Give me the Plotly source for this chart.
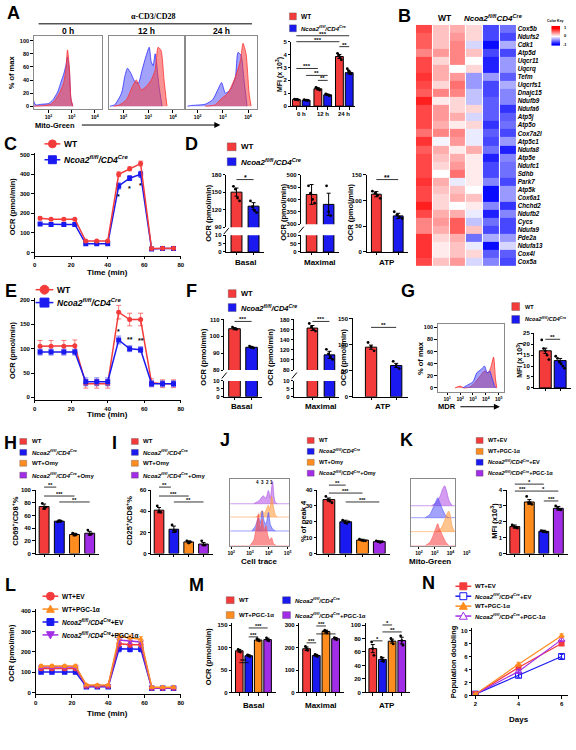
import plotly.graph_objects as go

W, H = 576, 750
FONT = "Liberation Sans, Arial, sans-serif"
SERIF = "Liberation Serif, Times New Roman, serif"
RED = "#F43B3B"
BLUE = "#1A1AF0"
ORANGE = "#FF8C1F"
PURPLE = "#A22DE6"
KO_LBL = "<i>Ncoa2<sup>fl/fl</sup>/CD4<sup>Cre</sup></i>"

# ======================= DATA =======================
# A - Mito-Green histograms (x: log10 intensity, y: % of max)
A0_KO_X = [1.36, 1.45, 1.7, 2.0, 2.2, 2.4, 2.55, 2.65, 2.75, 2.82, 2.9, 2.97, 3.05]
A0_KO_Y = [8, 2, 3, 4, 10, 22, 38, 48, 62, 75, 55, 10, 0]
A0_WT_X = [1.36, 1.8, 2.1, 2.3, 2.5, 2.65, 2.75, 2.82, 2.9, 2.97, 3.05]
A0_WT_Y = [0, 1, 3, 10, 22, 35, 55, 86, 60, 12, 0]
A12_KO_X = [1.45, 1.64, 1.92, 2.05, 2.16, 2.3, 2.45, 2.6, 2.75, 2.9, 3.04, 3.12, 3.2, 3.28, 3.44, 3.56]
A12_KO_Y = [0, 2, 20, 45, 58, 50, 38, 35, 55, 75, 90, 68, 62, 80, 30, 0]
A12_WT_X = [1.6, 1.84, 2.12, 2.36, 2.52, 2.72, 2.92, 3.12, 3.28, 3.4, 3.52, 3.64, 3.76]
A12_WT_Y = [0, 2, 10, 30, 40, 25, 30, 40, 55, 90, 85, 40, 0]
A24_KO_X = [1.6, 1.73, 2.3, 2.6, 2.8, 2.95, 3.1, 3.3, 3.5, 3.6, 3.72, 3.84, 3.96]
A24_KO_Y = [0, 1, 3, 10, 25, 36, 20, 25, 45, 82, 78, 40, 0]
A24_WT_X = [2.3, 2.7, 2.9, 3.2, 3.5, 3.7, 3.8, 3.92, 4.04, 4.12]
A24_WT_Y = [0, 2, 10, 20, 45, 70, 96, 80, 20, 0]
# A - MFI bars (x10^3)
A_GROUPS = ["0 h", "12 h", "24 h"]
A_MFI = [0.52, 0.47, 1.35, 0.88, 3.85, 2.60]
A_ERR = [0.04, 0.03, 0.08, 0.05, 0.16, 0.12]
A_DOTS = [[0.55, 0.5, 0.52, 0.48], [0.5, 0.45, 0.47, 0.44], [1.45, 1.4, 1.3, 1.25],
          [0.95, 0.9, 0.85, 0.8], [4.1, 3.95, 3.8, 3.6], [2.9, 2.75, 2.6, 2.5]]

# B - heatmap (row z-scores; 3 WT, 3 KO)
B_GENES = ["Cox5b", "Ndufs2", "Cdk1", "Atp5d", "Uqcr11", "Uqcrq", "Tefm", "Uqcrfs1", "Dnajc15",
           "Ndufb9", "Ndufa6", "Atp5j", "Atp5o", "Cox7a2l", "Atp5c1", "Ndufa8", "Atp5e", "Ndufc1",
           "Sdhb", "Park7", "Atp5k", "Cox6a1", "Chchd2", "Ndufb2", "Cycs", "Ndufa9", "Pde2a",
           "Ndufa13", "Cox4l", "Cox5a"]
B_Z = [
    [0.9, 0.3, 0.4, 0.2, -0.9, -0.7], [0.8, 0.3, 0.5, 0.2, -0.9, -0.9],
    [0.8, 0.3, 0.6, -0.2, -1.2, -0.4], [0.6, 0.5, 0.6, 0.3, -0.9, -0.9],
    [0.9, 0.2, 0.6, 0.0, -1.1, -0.5], [0.9, 0.4, 0.0, 0.2, -1.1, -0.5],
    [1.0, 0.4, 0.5, -0.5, -0.5, -0.8], [0.9, 0.2, 0.7, -0.5, -0.9, -0.4],
    [0.8, 0.6, 0.6, -0.3, -0.9, -0.6], [1.1, 0.1, 0.2, -0.3, -0.8, -0.6],
    [0.9, 0.5, 0.2, 0.2, -0.8, -1.0], [0.9, 0.5, 0.4, -0.2, -0.8, -0.8],
    [0.9, 0.4, 0.1, 0.2, -1.0, -0.7], [0.7, 0.6, 0.6, -0.1, -0.8, -0.9],
    [1.0, -0.05, 0.5, -0.1, -0.9, -0.5], [0.8, 0.4, 0.1, 0.4, -0.7, -1.1],
    [0.9, 0.3, 0.4, 0.1, -1.1, -0.6], [0.9, 0.2, 0.5, 0.1, -0.9, -0.7],
    [0.9, 0.0, 0.7, 0.1, -0.9, -0.7], [1.0, 0.4, -0.1, 0.1, -0.6, -0.9],
    [0.9, 0.3, 0.3, 0.0, -1.2, -0.5], [0.9, 0.2, 0.4, 0.3, -1.2, -0.5],
    [1.1, 0.2, 0.0, 0.1, -0.6, -1.0], [0.9, 0.4, 0.4, -0.1, -1.1, -0.6],
    [0.6, 0.5, 0.8, -0.3, -0.7, -0.9], [0.6, 0.4, 0.8, 0.3, -0.9, -0.9],
    [1.0, 0.2, 0.4, -0.7, -0.4, -0.5], [1.0, 0.1, 0.3, -0.1, -1.2, -0.2],
    [1.0, 0.1, 0.3, 0.2, -0.8, -0.8], [0.9, 0.3, 0.5, -0.2, -0.6, -0.9]]
B_KEY = [[-1], [-0.5], [0], [0.5], [1]]

# C / E / L - Seahorse OCR time courses
TIME = [3, 9, 16, 22, 28, 34, 40, 46, 52, 58, 64, 70, 76]
C_WT = [175, 170, 170, 170, 58, 58, 58, 400, 428, 455, 20, 22, 22]
C_KO = [145, 143, 143, 143, 45, 45, 45, 340, 380, 400, 18, 20, 20]
C_WT_ERR = [8, 5, 5, 5, 4, 4, 4, 12, 10, 12, 3, 3, 3]
C_KO_ERR = [6, 5, 5, 5, 4, 4, 4, 15, 12, 15, 3, 3, 3]
E_WT = [105, 105, 105, 106, 28, 28, 28, 175, 160, 160, 30, 28, 28]
E_KO = [93, 93, 93, 93, 32, 32, 32, 118, 100, 98, 28, 28, 28]
E_WT_ERR = [12, 12, 12, 12, 9, 9, 9, 14, 13, 13, 8, 8, 8]
E_KO_ERR = [6, 6, 6, 6, 8, 8, 8, 8, 6, 6, 6, 6, 6]
L_WT_EV = [118, 118, 118, 118, 32, 32, 32, 240, 235, 235, 22, 22, 22]
L_WT_PGC = [130, 130, 130, 130, 36, 36, 36, 275, 270, 262, 25, 25, 25]
L_KO_EV = [100, 100, 100, 100, 28, 28, 28, 215, 212, 212, 20, 20, 20]
L_KO_PGC = [125, 125, 125, 125, 33, 33, 33, 258, 252, 248, 22, 22, 22]
L_ERR = [8, 8, 8, 8, 4, 4, 4, 15, 12, 12, 3, 3, 3]

# D / F - OCR parameters (WT, KO)
D_BASAL = [150, 126]; D_BASAL_ERR = [7, 6]
D_BASAL_DOTS = [[160, 155, 140, 135], [135, 125, 118, 115]]
D_MAX = [420, 380]; D_MAX_ERR = [40, 45]
D_MAX_DOTS = [[455, 425, 400, 385], [455, 350, 335]]
D_ATP = [112, 70]; D_ATP_ERR = [5, 5]
D_ATP_DOTS = [[118, 114, 110, 104], [78, 72, 68, 65]]
F_BASAL = [104.5, 93.5]; F_BASAL_ERR = [0.6, 0.5]
F_BASAL_DOTS = [[105.5, 104.6, 104.2], [94.2, 93.6, 93.0]]
F_MAX = [163, 110]; F_MAX_ERR = [5, 7]
F_MAX_DOTS = [[172, 165, 160, 157], [121, 112, 106, 101]]
F_ATP = [95, 60]; F_ATP_ERR = [4, 4]
F_ATP_DOTS = [[104, 96, 88], [68, 60, 54]]

# G - MDR histogram and MFI
G_WT_X = [1.6, 2.0, 2.3, 2.7, 3.0, 3.5, 3.9, 4.2, 4.4, 4.6, 4.75, 4.85]
G_WT_Y = [0, 3, 0, 1, 5, 18, 28, 25, 35, 51, 15, 0]
G_KO_X = [2.2, 2.6, 3.0, 3.3, 3.6, 3.9, 4.1, 4.3, 4.5, 4.7, 4.8]
G_KO_Y = [0, 5, 10, 25, 30, 36, 25, 28, 15, 2, 0]
G_MFI = [17, 12.5]; G_ERR = [1.2, 1.0]
G_DOTS = [[22, 18, 17, 15, 13], [14.5, 13.5, 12, 11, 10, 9]]

# H / I / J - Omy experiments (WT, KO, WT+Omy, KO+Omy)
H_VALS = [74, 51, 30, 32]; H_ERR = [4, 1.5, 2, 3]
H_DOTS = [[79, 71, 73], [50, 52, 51], [32, 29, 30], [37, 30, 31]]
I_VALS = [41, 23, 11, 9]; I_ERR = [2.5, 3, 1, 1.5]
I_DOTS = [[45, 40, 39], [27, 22, 21], [12, 10, 11], [12, 8, 8]]
J_VALS = [34, 20, 8.5, 7.5]; J_ERR = [1, 1, 0.5, 0.5]
J_DOTS = [[36, 34, 33, 32], [21, 20, 19, 20], [9, 8.5, 8, 8], [8, 7.5, 7, 7.5]]
J_RED_X = [3.0, 3.2, 3.35, 3.45, 3.55, 3.65, 3.75, 3.85, 3.95, 4.05, 4.15, 4.25, 4.4]
J_RED_Y = [0, 8, 30, 48, 25, 40, 22, 30, 15, 8, 12, 3, 0]
J_BLUE_X = [3.1, 3.3, 3.45, 3.55, 3.65, 3.75, 3.85, 3.98, 4.08, 4.2, 4.35]
J_BLUE_Y = [0, 8, 20, 12, 30, 15, 10, 28, 10, 3, 0]
J_ORANGE_X = [3.3, 3.5, 3.65, 3.75, 3.85, 3.98, 4.05, 4.15, 4.25, 4.35, 4.45]
J_ORANGE_Y = [0, 3, 10, 5, 10, 18, 10, 31, 15, 3, 0]
J_PURPLE_X = [3.2, 3.5, 3.7, 3.85, 3.98, 4.08, 4.2, 4.28, 4.35, 4.45]
J_PURPLE_Y = [0, 5, 12, 8, 20, 8, 34, 10, 2, 0]

# K - PGC-1a Mito-Green (WT+EV, WT+PGC, KO+EV, KO+PGC)
K_RED_X = [2.4, 2.7, 2.9, 3.1, 3.19, 3.3, 3.5, 3.7, 3.9]
K_RED_Y = [0, 5, 15, 28, 33, 25, 15, 5, 0]
K_ORANGE_X = [3.1, 3.4, 3.6, 3.75, 3.88, 3.98, 4.1, 4.25]
K_ORANGE_Y = [0, 5, 15, 25, 31, 25, 8, 0]
K_BLUE_X = [2.4, 2.7, 2.9, 3.1, 3.19, 3.3, 3.5, 3.7, 3.9]
K_BLUE_Y = [0, 5, 15, 26, 30, 24, 12, 3, 0]
K_PURPLE_X = [2.8, 3.1, 3.35, 3.5, 3.63, 3.75, 3.9, 4.1]
K_PURPLE_Y = [0, 5, 15, 25, 30, 22, 8, 0]
K_VALS = [1.7, 3.25, 1.4, 2.85]; K_ERR = [0.1, 0.15, 0.07, 0.12]
K_DOTS = [[1.8, 1.7, 1.65, 1.6], [3.6, 3.2, 3.2, 3.1], [1.45, 1.4, 1.38, 1.35], [3.0, 2.85, 2.8, 2.75]]

# M - OCR parameters (WT, KO, WT+PGC, KO+PGC)
M_BASAL = [93, 82, 117, 118]; M_BASAL_ERR = [3, 2, 2, 3]
M_BASAL_DOTS = [[96, 92, 90], [84, 82, 80], [120, 117, 115], [122, 118, 115]]
M_MAX = [195, 165, 272, 240]; M_MAX_ERR = [8, 5, 6, 5]
M_MAX_DOTS = [[205, 195, 188], [170, 165, 160], [278, 272, 265], [245, 240, 235]]
M_ATP = [65, 49, 76, 77]; M_ATP_ERR = [6, 3, 3, 5]
M_ATP_DOTS = [[75, 65, 55], [52, 49, 46], [80, 76, 72], [84, 77, 70]]

# N - population doubling
N_DAYS = [2, 4, 6]
N_WT_EV = [0.2, 4.3, 8.0]
N_KO_EV = [0.2, 3.1, 6.0]
N_WT_PGC = [0.2, 4.8, 9.2]
N_KO_PGC = [0.2, 3.7, 8.6]
N_ERR = [0.1, 0.3, 0.3]

# ======================= HELPERS =======================
layout = dict(width=W, height=H, margin=dict(l=0, r=0, t=0, b=0, pad=0), paper_bgcolor="white",
              plot_bgcolor="rgba(0,0,0,0)", showlegend=False, barmode="overlay",
              font=dict(family=FONT, color="black", size=7, weight="bold"))
traces, shapes, annots = [], [], []
_n = [0]


def px(x):
    return x / W


def py(y):
    return 1 - y / H


def tf(size=6, **kw):
    d = dict(family=FONT, size=size, color="black", weight="bold")
    d.update(kw)
    return d


def axes(x0, y0, x1, y1, xr, yr, xkw=None, ykw=None):
    _n[0] += 1
    s = "" if _n[0] == 1 else str(_n[0])
    base = dict(showgrid=False, zeroline=False, showline=True, linecolor="black", linewidth=1,
                ticks="outside", ticklen=2.5, tickwidth=1, tickcolor="black", tickfont=tf(),
                fixedrange=True)
    xa = dict(base, domain=[px(x0), px(x1)], range=xr, anchor="y" + s)
    ya = dict(base, domain=[py(y1), py(y0)], range=yr, anchor="x" + s)
    if xkw:
        xa.update(xkw)
    if ykw:
        ya.update(ykw)
    layout["xaxis" + s] = xa
    layout["yaxis" + s] = ya
    return "x" + s, "y" + s


def text(x, y, s, size=7, xa="center", ya="middle", angle=0, family=FONT, style="normal",
         xref="paper", yref="paper", color="black"):
    annots.append(dict(x=px(x) if xref == "paper" else x, y=py(y) if yref == "paper" else y,
                       xref=xref, yref=yref, text=s, showarrow=False, xanchor=xa, yanchor=ya,
                       textangle=angle, borderpad=0,
                       font=dict(family=family, size=size, color=color, weight="bold", style=style)))


def hline(x0, x1, y, color="black", width=1):
    shapes.append(dict(type="line", xref="paper", yref="paper", x0=px(x0), x1=px(x1),
                       y0=py(y), y1=py(y), line=dict(color=color, width=width)))


def arrow(x0, x1, y):
    annots.append(dict(x=px(x1), y=py(y), xref="paper", yref="paper", ax=-(x1 - x0), ay=0,
                       text="", showarrow=True, arrowhead=2, arrowsize=1.2, arrowwidth=1,
                       arrowcolor="black"))


def leg_sq(x, y, color, label, w=8, h=8, fs=7):
    shapes.append(dict(type="rect", xref="paper", yref="paper", x0=px(x), x1=px(x + w),
                       y0=py(y + h / 2), y1=py(y - h / 2), fillcolor=color,
                       line=dict(color="rgba(60,60,60,0.6)", width=0.5)))
    text(x + w + 4, y, label, fs, xa="left")


def mshape(cx, cy, sym, color, r=3.5, filled=True):
    fill = color if filled else "white"
    ln = dict(color=color, width=1)
    if sym == "circle":
        shapes.append(dict(type="circle", xref="paper", yref="paper", x0=px(cx - r), x1=px(cx + r),
                           y0=py(cy + r), y1=py(cy - r), fillcolor=fill, line=ln))
    elif sym == "square":
        shapes.append(dict(type="rect", xref="paper", yref="paper", x0=px(cx - r), x1=px(cx + r),
                           y0=py(cy + r), y1=py(cy - r), fillcolor=fill, line=ln))
    else:
        s = 1 if sym == "tri-up" else -1
        path = "M {},{} L {},{} L {},{} Z".format(px(cx - r), py(cy + s * r * 0.8), px(cx + r),
                                                  py(cy + s * r * 0.8), px(cx), py(cy - s * r))
        shapes.append(dict(type="path", xref="paper", yref="paper", path=path, fillcolor=fill, line=ln))


def leg_line(x0, x1, y, color, sym, label, fs=7, r=3.5, filled=True):
    hline(x0, x1, y, color, 1.5)
    mshape((x0 + x1) / 2, y, sym, color, r, filled)
    text(x1 + 3, y, label, fs, xa="left")


def sig(xa, i0, i1, ypix, label, fs=6):
    shapes.append(dict(type="line", xref=xa, yref="paper", x0=i0, x1=i1, y0=py(ypix), y1=py(ypix),
                       line=dict(color="black", width=0.8)))
    annots.append(dict(x=(i0 + i1) / 2, y=py(ypix), xref=xa, yref="paper", text=label,
                       showarrow=False, yanchor="bottom", yshift=-2, borderpad=0,
                       font=dict(family=FONT, size=fs, color="black", weight="bold")))


def bars(xa, ya, vals, colors, errs=None, dots=None, width=0.65, pos=None, dsp=0.12):
    if pos is None:
        pos = list(range(len(vals)))
    traces.append(go.Bar(x=pos, y=vals, width=width, xaxis=xa, yaxis=ya,
                         marker=dict(color=colors, line=dict(color="black", width=1)),
                         error_y=dict(type="data", array=errs if errs else [0] * len(vals),
                                      visible=bool(errs), color="black", thickness=1, width=2)))
    if dots:
        xs, ys = [], []
        for i, d in enumerate(dots):
            k = len(d)
            for j, v in enumerate(d):
                xs.append(pos[i] + (j - (k - 1) / 2) * dsp)
                ys.append(v)
        traces.append(go.Scatter(x=xs, y=ys, mode="markers", xaxis=xa, yaxis=ya,
                                 marker=dict(color="black", size=2.8)))


def broken(x0, x1, up, lo, xr, r_up, r_lo, t_up, t_lo, vals, colors, errs, dots, width):
    xa1, ya1 = axes(x0, up[0], x1, up[1], xr, r_up,
                    xkw=dict(showline=False, ticks="", showticklabels=False),
                    ykw=dict(tickvals=t_up))
    bars(xa1, ya1, vals, colors, errs, dots, width)
    n = len(vals)
    xa2, ya2 = axes(x0, lo[0], x1, lo[1], xr, r_lo,
                    xkw=dict(tickvals=list(range(n)), ticktext=[""] * n),
                    ykw=dict(tickvals=t_lo))
    bars(xa2, ya2, vals, colors, None, None, width)
    ym = (up[1] + lo[0]) / 2
    shapes.append(dict(type="line", xref="paper", yref="paper", x0=px(x0 - 2.5), x1=px(x0 + 2.5),
                       y0=py(ym + 3), y1=py(ym - 3), line=dict(color="black", width=1)))
    return xa1, ya1


def simple_bars(x0, y0, x1, y1, xr, yr, yt, vals, colors, errs, dots, width):
    n = len(vals)
    xa, ya = axes(x0, y0, x1, y1, xr, yr,
                  xkw=dict(tickvals=list(range(n)), ticktext=[""] * n),
                  ykw=dict(tickvals=yt))
    bars(xa, ya, vals, colors, errs, dots, width)
    return xa, ya


def hist_tozero(xa, ya, xs, ys, fill, line):
    traces.append(go.Scatter(x=xs, y=ys, mode="lines", fill="tozeroy", fillcolor=fill,
                             line=dict(color=line, width=0.8, shape="spline", smoothing=0.6),
                             xaxis=xa, yaxis=ya))


def hist_track(xa, ya, xs, ys, base, xr, fill, line):
    traces.append(go.Scatter(x=xr, y=[base, base], mode="lines", xaxis=xa, yaxis=ya,
                             line=dict(color=line, width=0.6)))
    traces.append(go.Scatter(x=xs, y=[base + v for v in ys], mode="lines", fill="tonexty",
                             fillcolor=fill, line=dict(color=line, width=0.7, shape="spline",
                                                       smoothing=0.6), xaxis=xa, yaxis=ya))


def hist_axes(x0, y0, x1, y1, xr, yr, tickvals, ticktext, show_y=False, ytv=None):
    box = dict(linecolor="#8a8a8a", mirror=True)
    ykw = dict(box)
    if show_y:
        ykw.update(tickvals=ytv, tickfont=tf(5.5), linecolor="#8a8a8a", tickcolor="black")
    else:
        ykw.update(ticks="", showticklabels=False)
    return axes(x0, y0, x1, y1, xr, yr,
                xkw=dict(box, tickvals=tickvals, ticktext=ticktext, tickfont=tf(5)), ykw=ykw)


LOGT = {1: "10<sup>1</sup>", 2: "10<sup>2</sup>", 3: "10<sup>3</sup>", 4: "10<sup>4</sup>", 5: "10<sup>5</sup>"}
FR = "rgba(245,60,60,0.55)"
FB = "rgba(70,70,245,0.5)"
FO = "rgba(255,150,50,0.55)"
FP = "rgba(170,60,230,0.5)"

# ======================= PANEL A =======================
text(11, 10, "A", 18)
text(152, 14, "α-CD3/CD28", 8, family=SERIF)
hline(36, 252, 21, "black", 1)
hists_a = [(31, 100, [1.36, 4.3], "0 h", A0_KO_X, A0_KO_Y, A0_WT_X, A0_WT_Y),
           (107, 183, [1.4, 4.44], "12 h", A12_KO_X, A12_KO_Y, A12_WT_X, A12_WT_Y),
           (185, 257, [1.53, 4.35], "24 h", A24_KO_X, A24_KO_Y, A24_WT_X, A24_WT_Y)]
for k, (x0, x1, xr, ttl, kx, ky, wx, wy) in enumerate(hists_a):
    xa, ya = hist_axes(x0, 33, x1, 107, xr, [-4.5, 107.6], [2, 3, 4], [LOGT[2], LOGT[3], LOGT[4]],
                       show_y=(k == 0), ytv=[0, 20, 40, 60, 80, 100])
    hist_tozero(xa, ya, kx, ky, FB, "#3030ff")
    hist_tozero(xa, ya, wx, wy, FR, "#ff3030")
    text((x0 + x1) / 2, 28, ttl, 8.5)
text(9, 70, "% of max", 7.5, angle=-90)
text(53, 123, "Mito-Green", 7.5)
arrow(80, 220, 123)

# A MFI bars
A_POS = [0, 1, 2.2, 3.2, 4.4, 5.4]
xa, ya = axes(292, 39, 356, 104, [-0.5, 5.96], [0, 5],
              xkw=dict(tickvals=A_POS, ticktext=[""] * 6), ykw=dict(tickvals=[0, 1, 2, 3, 4, 5]))
bars(xa, ya, A_MFI, [RED, BLUE] * 3, A_ERR, A_DOTS, width=0.8, pos=A_POS, dsp=0.13)
for g, c in zip(A_GROUPS, [0.5, 2.7, 4.9]):
    text(c, 112, g, 6, xref=xa)
text(280, 72, "MFI (x 10<sup>3</sup>)", 7, angle=-90)
sig(xa, 0, 5.4, 33, "***")
sig(xa, 0, 4.4, 39, "***")
sig(xa, 4.4, 5.4, 44, "**")
sig(xa, 0, 2.2, 66, "***")
sig(xa, 1, 3.2, 73, "**")
sig(xa, 2.2, 3.2, 78, "**")
leg_sq(290, 13.5, RED, "WT", 7, 7, 6.5)
leg_sq(290, 25.5, BLUE, KO_LBL, 7, 7, 6)

# ======================= PANEL B =======================
text(406, 13, "B", 18)
xa, ya = axes(418, 22, 520, 265, [-0.5, 5.5], [29.5, -0.5], xkw=dict(visible=False),
              ykw=dict(side="right", showline=False, ticks="", tickfont=tf(6.3, style="italic"),
                       tickvals=list(range(len(B_GENES))), ticktext=B_GENES))
traces.append(go.Heatmap(z=B_Z, x=list(range(6)), y=list(range(len(B_GENES))), xaxis=xa, yaxis=ya,
                         colorscale=[[0, "#0000FF"], [0.5, "#FFFFFF"], [1, "#FF0000"]],
                         zmin=-1.25, zmax=1.25, showscale=False, xgap=1))
text(447, 15, "WT", 8.5)
text(496, 15, "<i>Ncoa2<sup>fl/fl</sup>CD4<sup>Cre</sup></i>", 8)
xa, ya = axes(555, 23, 564, 43, [-0.5, 0.5], [-0.5, 4.5], xkw=dict(visible=False),
              ykw=dict(visible=False))
traces.append(go.Heatmap(z=B_KEY, x=[0], y=list(range(5)), xaxis=xa, yaxis=ya, zsmooth="best",
                         colorscale=[[0, "#0000FF"], [0.5, "#FFFFFF"], [1, "#FF0000"]],
                         zmin=-1, zmax=1, showscale=False))
text(559, 18, "Color Key", 3.5)
text(567, 25, "1", 4, xa="left")
text(567, 33, "0", 4, xa="left")
text(566, 42, "-1", 4, xa="left")

# ======================= PANEL C =======================
text(8, 142, "C", 18)
xa, ya = axes(32, 151, 180, 255, [0, 80], [-18, 510], xkw=dict(tickvals=[0, 20, 40, 60, 80]),
              ykw=dict(tickvals=[0, 100, 200, 300, 400, 500]))
traces.append(go.Scatter(x=TIME, y=C_KO, xaxis=xa, yaxis=ya, mode="lines+markers",
                         line=dict(color=BLUE, width=1.5), marker=dict(symbol="square", size=5, color=BLUE),
                         error_y=dict(type="data", array=C_KO_ERR, color=BLUE, thickness=1, width=2)))
traces.append(go.Scatter(x=TIME, y=C_WT, xaxis=xa, yaxis=ya, mode="lines+markers",
                         line=dict(color=RED, width=1.5), marker=dict(symbol="circle", size=5, color=RED),
                         error_y=dict(type="data", array=C_WT_ERR, color=RED, thickness=1, width=2)))
for i in [7, 8, 9]:
    text(TIME[i], C_KO[i] - 55, "*", 7, xref=xa, yref=ya)
text(106, 272, "Time (min)", 8)
text(9, 205, "OCR (pmol/min)", 7.5, angle=-90)
leg_line(42, 58, 142, RED, "circle", "WT", 8.5, 4)
leg_line(42, 58, 158, BLUE, "square", KO_LBL, 8.5, 4)

# ======================= PANEL D =======================
text(191, 142, "D", 18)
leg_sq(227, 145, RED, "WT", 9, 8, 8)
leg_sq(227, 160, BLUE, KO_LBL, 9, 8, 8)
xa, _ = broken(226, 264, (173, 226), (234, 251), [-0.6, 1.6], [90, 180], [0, 10], [90, 120, 150, 180],
               [0, 5, 10], D_BASAL, [RED, BLUE], D_BASAL_ERR, D_BASAL_DOTS, 0.64)
sig(xa, 0, 1, 178, "*", 7)
broken(302, 340, (173, 223), (234, 251), [-0.6, 1.6], [300, 500], [0, 100],
       [300, 350, 400, 450, 500], [0, 50, 100], D_MAX, [RED, BLUE], D_MAX_ERR, D_MAX_DOTS, 0.62)
xa, ya = simple_bars(368, 173, 410, 251, [-0.45, 1.45], [0, 150], [0, 50, 100, 150], D_ATP,
                     [RED, BLUE], D_ATP_ERR, D_ATP_DOTS, 0.45)
sig(xa, 0, 1, 178, "**", 7)
text(245, 262, "Basal", 8)
text(321, 262, "Maximal", 8)
text(389, 262, "ATP", 8)
for xx in [208, 284, 352]:
    text(xx, 211, "OCR (pmol/min)", 7.5, angle=-90)

# ======================= PANEL E =======================
text(8, 290, "E", 18)
xa, ya = axes(32, 297, 180, 400, [0, 80], [-5, 205], xkw=dict(tickvals=[0, 20, 40, 60, 80]),
              ykw=dict(tickvals=[0, 50, 100, 150, 200]))
traces.append(go.Scatter(x=TIME, y=E_WT, xaxis=xa, yaxis=ya, mode="lines+markers",
                         line=dict(color=RED, width=1.5), marker=dict(symbol="circle", size=5, color=RED),
                         error_y=dict(type="data", array=E_WT_ERR, color="rgba(245,90,90,0.8)",
                                      thickness=1, width=2.5)))
traces.append(go.Scatter(x=TIME, y=E_KO, xaxis=xa, yaxis=ya, mode="lines+markers",
                         line=dict(color=BLUE, width=1.5), marker=dict(symbol="square", size=5, color=BLUE),
                         error_y=dict(type="data", array=E_KO_ERR, color="rgba(90,90,245,0.8)",
                                      thickness=1, width=2.5)))
for i, lab in zip([7, 8, 9], ["*", "**", "**"]):
    text(TIME[i], E_KO[i] + 9, lab, 7, ya="bottom", xref=xa, yref=ya)
text(106, 415, "Time (min)", 8)
text(9, 350, "OCR (pmol/min)", 7.5, angle=-90)
leg_line(33, 51, 289, RED, "circle", "WT", 8.5, 4.5)
leg_line(33, 51, 302, BLUE, "square", KO_LBL, 8.5, 4.5)

# ======================= PANEL F =======================
text(191, 290, "F", 18)
leg_sq(228, 293, RED, "WT", 8, 8, 7.5)
leg_sq(228, 307, BLUE, KO_LBL, 8, 8, 7.5)
xa, _ = broken(224, 262, (319, 370), (381, 397), [-0.6, 1.6], [80, 110], [0, 10], [80, 90, 100, 110],
               [0, 5, 10], F_BASAL, [RED, BLUE], F_BASAL_ERR, F_BASAL_DOTS, 0.68)
sig(xa, 0, 1, 321, "***")
xa, _ = broken(295, 340, (319, 370), (381, 397), [-1.05, 1.55], [80, 180], [0, 10],
               [80, 100, 120, 140, 160, 180], [0, 5, 10], F_MAX, [RED, BLUE], F_MAX_ERR, F_MAX_DOTS, 0.62)
sig(xa, 0, 1, 321, "***")
xa, ya = simple_bars(354, 318, 410, 397, [-0.73, 1.47], [0, 150], [0, 50, 100, 150], F_ATP,
                     [RED, BLUE], F_ATP_ERR, F_ATP_DOTS, 0.45)
sig(xa, 0, 1, 327, "**")
text(241, 407, "Basal", 8)
text(322, 407, "Maximal", 8)
text(385, 407, "ATP", 8)
for xx in [203, 270, 344]:
    text(xx, 357, "OCR (pmol/min)", 7.5, angle=-90)

# ======================= PANEL G =======================
text(410, 290, "G", 18)
leg_sq(515, 306, RED, "WT", 8, 8, 5.5)
leg_sq(515, 319, BLUE, KO_LBL, 8, 8, 5.5)
xa, ya = hist_axes(440, 324, 507, 392, [0.25, 5.4], [-6.5, 105], [1, 2, 3, 4, 5],
                   [LOGT[i] for i in range(1, 6)], show_y=True, ytv=[0, 20, 40, 60, 80, 100])
hist_tozero(xa, ya, G_WT_X, G_WT_Y, FR, "#ff3030")
hist_tozero(xa, ya, G_KO_X, G_KO_Y, FB, "#3030ff")
text(422, 358, "% of max", 7.5, angle=-90)
text(449, 407, "MDR", 7.5)
arrow(462, 503, 407)
xa, ya = simple_bars(538, 333, 575, 388, [-0.73, 1.73], [0, 25], [0, 5, 10, 15, 20, 25], G_MFI,
                     [RED, BLUE], G_ERR, G_DOTS, 0.8)
sig(xa, 0, 1, 339, "**")
text(523, 360, "MFI (x 10<sup>3</sup>)", 7, angle=-90)

# ======================= PANEL H =======================
COL4 = [RED, BLUE, ORANGE, PURPLE]
text(8, 444, "H", 18)
for yy, c, lab in zip([442, 453, 464, 476], COL4, ["WT", KO_LBL, "WT+Omy", KO_LBL + "+Omy"]):
    leg_sq(17, yy, c, lab, 7, 6, 6)
xa, ya = simple_bars(33, 491, 97, 555, [-0.56, 3.6], [0, 100], [0, 20, 40, 60, 80, 100], H_VALS,
                     COL4, H_ERR, H_DOTS, 0.65)
sig(xa, 0, 0.8, 488, "**", 5.5)
sig(xa, 0, 2, 497, "***", 5.5)
sig(xa, 1, 3, 503, "**", 5.5)
text(12, 522, "CD69<sup>+</sup>/CD8<sup>+</sup>%", 7.5, angle=-90)

# ======================= PANEL I =======================
text(113, 444, "I", 18)
for yy, c, lab in zip([442, 453, 464, 476], COL4, ["WT", KO_LBL, "WT+Omy", KO_LBL + "+Omy"]):
    leg_sq(130, yy, c, lab, 7, 6, 6)
xa, ya = simple_bars(150, 491, 213, 555, [-0.53, 3.67], [0, 60], [0, 20, 40, 60], I_VALS,
                     COL4, I_ERR, I_DOTS, 0.65)
sig(xa, 0, 0.8, 488, "**", 5.5)
sig(xa, 0, 2, 497, "***", 5.5)
sig(xa, 1, 3, 503, "**", 5.5)
text(127, 522, "CD25<sup>+</sup>/CD8<sup>+</sup>%", 7.5, angle=-90)

# ======================= PANEL J =======================
text(225, 441, "J", 18)
for yy, c, lab in zip([441, 452, 463, 474], COL4, ["WT", KO_LBL, "WT+Omy", KO_LBL + "+Omy"]):
    leg_sq(308, yy, c, lab, 7, 6, 5.5)
JR = [1.95, 5.1]
xa, ya = hist_axes(230, 480, 290, 547, JR, [0, 100], [2, 3, 4, 5], [LOGT[i] for i in range(2, 6)])
hist_track(xa, ya, J_PURPLE_X, J_PURPLE_Y, 63, JR, FP, "#b060e0")
hist_track(xa, ya, J_ORANGE_X, J_ORANGE_Y, 43, JR, FO, "#ffa050")
hist_track(xa, ya, J_BLUE_X, J_BLUE_Y, 22, JR, FB, "#6060ff")
hist_track(xa, ya, J_RED_X, J_RED_Y, 0, JR, FR, "#ff6060")
for xx, lab in zip([258, 263, 268, 272], ["4", "3", "2", "1"]):
    text(xx, 483, lab, 4.5)
text(260, 563, "Cell trace", 8)
xa, ya = simple_bars(318, 491, 392, 555, [-0.7, 3.65], [0, 40], [0, 10, 20, 30, 40], J_VALS,
                     COL4, J_ERR, J_DOTS, 0.7)
sig(xa, 0, 1, 486, "**", 5.5)
sig(xa, 0, 2, 494, "***", 5.5)
sig(xa, 1, 3, 503, "***", 5.5)
text(305, 522, "% of peak 4", 7.5, angle=-90)

# ======================= PANEL K =======================
COLK = [RED, ORANGE, BLUE, PURPLE]
text(408, 441, "K", 18)
for yy, c, lab in zip([441, 452, 463, 474], COLK,
                      ["WT+EV", "WT+PGC-1α", KO_LBL + "+EV", KO_LBL + "+PGC-1α"]):
    leg_sq(479, yy, c, lab, 7, 6, 5.5)
KR = [1.5, 4.31]
xa, ya = hist_axes(413, 480, 458, 547, KR, [0, 100], [2, 3, 4], [LOGT[i] for i in range(2, 5)])
hist_track(xa, ya, K_PURPLE_X, K_PURPLE_Y, 60, KR, FP, "#b060e0")
hist_track(xa, ya, K_BLUE_X, K_BLUE_Y, 42, KR, FB, "#6060ff")
hist_track(xa, ya, K_ORANGE_X, K_ORANGE_Y, 21, KR, FO, "#ffa050")
hist_track(xa, ya, K_RED_X, K_RED_Y, 0, KR, FR, "#ff6060")
text(470, 554, LOGT[5], 5)
text(432, 563, "Mito-Green", 8)
xa, ya = simple_bars(510, 491, 572, 555, [-0.55, 3.67], [0, 4], [0, 1, 2, 3, 4], K_VALS,
                     COLK, K_ERR, K_DOTS, 0.68)
sig(xa, 0, 2, 485, "*", 6)
sig(xa, 0, 1, 492, "***", 5.5)
sig(xa, 1, 3, 492, "*", 6)
sig(xa, 2, 3, 502, "***", 5.5)
text(497, 522, "MFI (x10<sup>3</sup>)", 7.5, angle=-90)

# ======================= PANEL L =======================
text(8, 587, "L", 18)
xa, ya = axes(33, 611, 180, 697, [0, 80], [-10, 410], xkw=dict(tickvals=[0, 20, 40, 60, 80]),
              ykw=dict(tickvals=[0, 100, 200, 300, 400]))
for ys, c, sym in [(L_KO_EV, BLUE, "square"), (L_WT_EV, RED, "circle"),
                   (L_KO_PGC, PURPLE, "triangle-down"), (L_WT_PGC, ORANGE, "triangle-up")]:
    traces.append(go.Scatter(x=TIME, y=ys, xaxis=xa, yaxis=ya, mode="lines+markers",
                             line=dict(color=c, width=1.5), marker=dict(symbol=sym, size=5.5, color=c),
                             error_y=dict(type="data", array=L_ERR, color=c, thickness=1, width=2)))
text(106, 716, "Time (min)", 8)
text(9, 655, "OCR (pmol/min)", 7.5, angle=-90)
leg_line(40, 56, 598, RED, "circle", "WT+EV", 6.5, 4)
leg_line(40, 56, 611, ORANGE, "tri-up", "WT+PGC-1α", 6.5, 4)
leg_line(40, 56, 624, BLUE, "square", KO_LBL + "+EV", 6.5, 3.5)
leg_line(40, 56, 637, PURPLE, "tri-down", KO_LBL + "+PGC-1α", 6.5, 4)

# ======================= PANEL M =======================
text(196, 587, "M", 18)
leg_sq(226, 602, RED, "WT", 8, 7, 6)
leg_sq(283, 602, BLUE, KO_LBL, 8, 7, 6)
leg_sq(226, 617, ORANGE, "WT+PGC-1α", 8, 7, 6)
leg_sq(283, 617, PURPLE, KO_LBL + "+PGC-1α", 8, 7, 6)
xa, ya = simple_bars(232, 625, 276, 695, [-0.75, 3.85], [0, 155], [0, 50, 100, 150], M_BASAL,
                     COL4, M_BASAL_ERR, M_BASAL_DOTS, 0.8)
sig(xa, 0, 1, 665, "***", 5.5)
sig(xa, 1, 2, 639, "***", 5.5)
sig(xa, 1, 3, 630, "***", 5.5)
xa, ya = simple_bars(300, 625, 345, 695, [-0.75, 3.85], [0, 310], [0, 100, 200, 300], M_MAX,
                     COL4, M_MAX_ERR, M_MAX_DOTS, 0.8)
sig(xa, 0, 1, 645, "***", 5.5)
sig(xa, 1, 2, 628, "***", 5.5)
sig(xa, 1, 3, 636, "***", 5.5)
xa, ya = simple_bars(367, 625, 412, 695, [-0.75, 3.85], [0, 103], [0, 20, 40, 60, 80, 100], M_ATP,
                     COL4, M_ATP_ERR, M_ATP_DOTS, 0.8)
sig(xa, 0, 1, 643, "*", 6)
sig(xa, 1, 2, 627, "*", 6)
sig(xa, 1, 3, 634, "**", 6)
text(254, 708, "Basal", 8)
text(322, 708, "Maximal", 8)
text(389, 708, "ATP", 8)
text(208, 658, "OCR (pmol/min)", 7.5, angle=-90)

# ======================= PANEL N =======================
text(431, 585, "N", 18)
xa, ya = axes(475, 630, 572, 698, [1.85, 6.3], [0, 10.4], xkw=dict(tickvals=[2, 4, 6]),
              ykw=dict(tickvals=[0, 2, 4, 6, 8, 10]))
for ys, c, sym in [(N_KO_EV, BLUE, "square-open"), (N_WT_EV, RED, "square"),
                   (N_KO_PGC, PURPLE, "triangle-up-open"), (N_WT_PGC, ORANGE, "triangle-up")]:
    traces.append(go.Scatter(x=N_DAYS, y=ys, xaxis=xa, yaxis=ya, mode="lines+markers",
                             line=dict(color=c, width=1.2), marker=dict(symbol=sym, size=6, color=c),
                             error_y=dict(type="data", array=N_ERR, color=c, thickness=1, width=2)))
text(522, 722, "Days", 8)
text(456, 664, "Population doubling", 7.5, angle=-90)
leg_line(458, 474, 588, RED, "square", "WT+EV", 6, 3.5)
leg_line(458, 474, 598, BLUE, "square", KO_LBL + "+EV", 6, 3.5, filled=False)
leg_line(458, 474, 608, ORANGE, "tri-up", "WT+PGC-1α", 6, 4)
leg_line(458, 474, 618, PURPLE, "tri-up", KO_LBL + "+PGC-1α", 6, 4, filled=False)

# ======================= BUILD =======================
layout["shapes"] = shapes
layout["annotations"] = annots
fig = go.Figure(data=traces, layout=layout)
fig.write_html("out.html", config={"displayModeBar": False},
               post_script="document.body.style.margin='0';document.body.style.overflow='hidden';")
